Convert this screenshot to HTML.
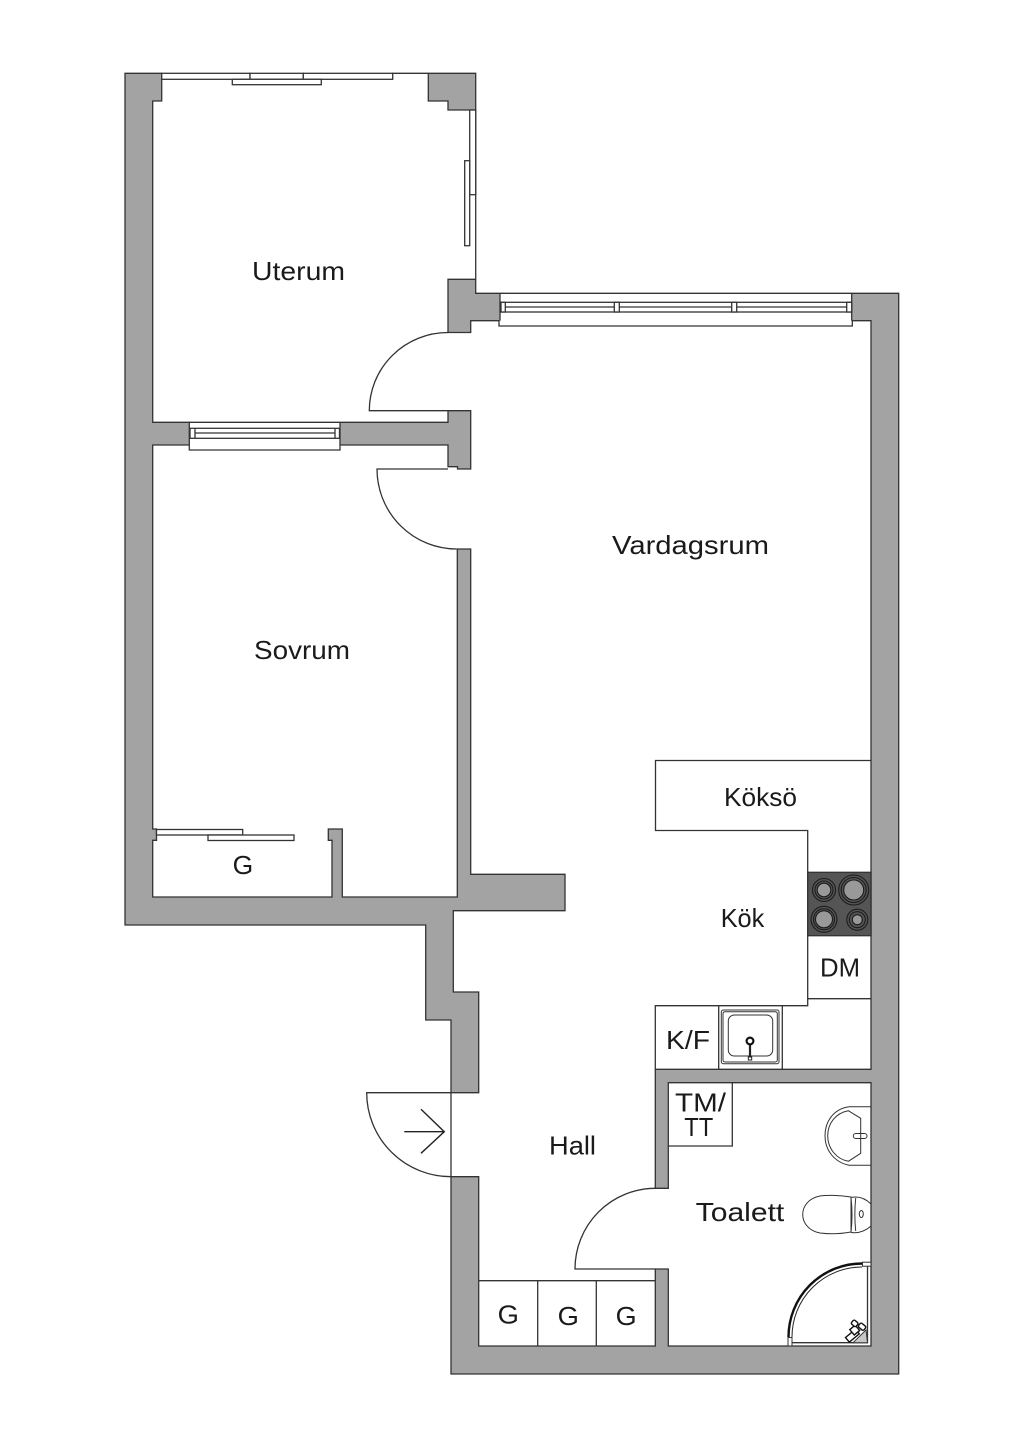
<!DOCTYPE html>
<html>
<head>
<meta charset="utf-8">
<style>
html,body{margin:0;padding:0;background:#fff}
svg{display:block}
text{font-family:"Liberation Sans",sans-serif;font-size:26px;fill:#1a1a1a}
.w{fill:#a3a3a3;stroke:#333;stroke-width:1.3;stroke-linejoin:miter}
.l{fill:none;stroke:#333;stroke-width:1.3}
.f{fill:#fff;stroke:#333;stroke-width:1.3}
.t{fill:none;stroke:#333;stroke-width:1}
</style>
</head>
<body>
<svg width="1024" height="1448" viewBox="0 0 1024 1448" xmlns="http://www.w3.org/2000/svg">
<rect width="1024" height="1448" fill="#fff"/>

<!-- Walls -->
<path class="w" d="M125,73.3H161.7V101H152.7V422.3H189.3V445H152.7V829H156.5V840.3H152.7V897H332V840.3H328.3V829H342.3V897H457.3V549H470.7V874.3H565V910.7H453.3V992H478.7V1092.7H451V1020H425.7V925H125Z"/>
<path class="w" d="M340,422.3H448V410.7H470.7V469H457.5V466.7H448V445H340Z"/>
<path class="w" d="M428.3,73.3H475.7V110H448V101H428.3Z"/>
<path class="w" d="M448,279.3H475.7V293.3H500V320.7H470.7V332.5H448Z"/>
<path class="w" d="M851.7,293.3H898.7V1374H451V1176.7H478.7V1346H655.3V1269H668.3V1346H871V1082.7H668.3V1188.3H655.3V1069.3H871V320.7H851.7Z"/>

<!-- Uterum windows -->
<path class="l" d="M392,73.3H428.3M475.7,110V279.3"/>
<rect class="f" x="161.7" y="73.3" width="88.3" height="6"/>
<rect class="f" x="250" y="73.3" width="53.3" height="6"/>
<rect class="f" x="303.3" y="73.3" width="89.4" height="6"/>
<rect class="f" x="232.3" y="79.3" width="89" height="5.4"/>
<rect class="f" x="469.7" y="110" width="6" height="84.7"/>
<rect class="f" x="464.7" y="160.7" width="5" height="85"/>

<!-- Living room window -->
<path class="f" d="M499,320.7V326H852.3V320.7"/>
<path class="l" d="M500,293.3H851.7"/>
<rect class="f" x="501" y="302.3" width="350.7" height="9.7"/>
<path class="l" d="M505.3,307H846.7"/>
<rect class="f" x="501" y="302.3" width="4.3" height="9.7"/>
<rect class="f" x="614.3" y="302.3" width="5" height="9.7"/>
<rect class="f" x="731.7" y="302.3" width="5" height="9.7"/>
<rect class="f" x="846.7" y="302.3" width="5" height="9.7"/>

<!-- Divider window -->
<path class="l" d="M189.3,422.3H340"/>
<path class="f" d="M189.3,445V450H340V445"/>
<rect class="f" x="190" y="428.3" width="149.5" height="10"/>
<path class="l" d="M195,433H335M195,428.3V438.3M335,428.3V438.3"/>

<!-- Doors -->
<path class="l" d="M448,332.5A78.7,78.2 0 0 0 369.3,410.7H448"/>
<path class="l" d="M448,469H377A79.7,80 0 0 0 456.7,549"/>
<path class="l" d="M451,1092.7H366.7A84.3,84 0 0 0 451,1176.7V1092.7"/>
<path class="l" d="M655.3,1188.3A80.3,80.7 0 0 0 575,1269H655.3"/>

<!-- Entry arrow -->
<path d="M404.3,1131.7H444.3M421,1109.3L444.3,1131.7L421,1153.3" fill="none" stroke="#222" stroke-width="1.4"/>

<!-- Bedroom closet -->
<rect class="f" x="156.5" y="829.5" width="86.2" height="5.5"/>
<rect class="f" x="208" y="835" width="86" height="5.5"/>

<!-- Hall closets -->
<path class="l" d="M478.7,1280.7H655.3M537.7,1280.7V1346M596.3,1280.7V1346"/>

<!-- Kitchen -->
<path class="l" d="M871,760.5H655.5V830.5H807.7V1005.7H655.3V1069.3M807.7,998.7H871M718.7,1005.7V1069.3M782.3,1005.7V1069.3"/>
<rect x="807.7" y="872.3" width="63.3" height="63.4" fill="#555" stroke="#333" stroke-width="1.3"/>
<g stroke="#1c1c1c" fill="#555" stroke-width="1.1">
<circle cx="824" cy="890" r="11.5"/><circle cx="824" cy="890" r="9"/><circle cx="824" cy="890" r="6.8" fill="#999"/>
<circle cx="853.7" cy="890" r="15"/><circle cx="853.7" cy="890" r="12.5"/><circle cx="853.7" cy="890" r="10" fill="#999"/>
<circle cx="824" cy="919.3" r="13"/><circle cx="824" cy="919.3" r="10.5"/><circle cx="824" cy="919.3" r="8.5" fill="#999"/>
<circle cx="857.3" cy="919.7" r="10.5"/><circle cx="857.3" cy="919.7" r="8"/><circle cx="857.3" cy="919.7" r="5" fill="#999"/>
</g>
<!-- Kitchen sink -->
<rect class="t" x="721.3" y="1010" width="57.7" height="53.7" rx="2"/>
<rect class="t" x="723" y="1011.7" width="54.3" height="50.3" rx="2"/>
<rect class="t" x="728.3" y="1015" width="44.4" height="41" rx="6"/>
<circle cx="750" cy="1041" r="3.4" fill="#fff" stroke="#111" stroke-width="2.2"/>
<path d="M750,1045V1057" stroke="#222" stroke-width="2.2"/>
<rect x="748.3" y="1057" width="3.4" height="3" fill="#fff" stroke="#222" stroke-width="1"/>

<!-- WC box -->
<path class="l" d="M668.3,1146H732.3V1082.7"/>

<!-- Wash basin -->
<path class="t" d="M871,1106.7H849C833,1109 825,1122 825,1135.7C825,1150 834,1162 849,1165.3H871"/>
<path class="t" d="M848.3,1110.7L860.7,1118.3V1153.3L848.3,1161.3C836,1159 827.7,1148 827.7,1135.7C827.7,1123 836,1113 848.3,1110.7Z"/>
<rect class="t" x="853.3" y="1133.5" width="13.7" height="5" rx="2.5"/>

<!-- Toilet -->
<path class="t" d="M851,1197C838,1195 826,1195 820,1196C809,1198 802.7,1206 802.7,1214.5C802.7,1223 809,1231 820,1233C828,1234 840,1234 851,1232Z"/>
<path class="t" d="M851,1197.5Q853,1214.5 851,1232.5M855.7,1198Q854,1214.5 855.7,1231"/>
<path class="t" d="M851,1197.5Q862,1195 871,1204M851,1232.5Q862,1234 871,1226"/>
<ellipse cx="861.3" cy="1214" rx="2" ry="3.5" class="t"/>

<!-- Shower -->
<path class="l" d="M867.5,1266V1342.7H790"/>
<path d="M862,1263.5A73.5,73.5 0 0 0 788.5,1337" fill="none" stroke="#111" stroke-width="2.4"/>
<path d="M862,1267A70,70 0 0 0 792,1337" fill="none" stroke="#222" stroke-width="1"/>
<rect x="862.5" y="1262.2" width="8.5" height="4" fill="#fff" stroke="#333" stroke-width="1"/>
<rect x="788" y="1337.5" width="4" height="8.5" fill="#fff" stroke="#333" stroke-width="1"/>
<path d="M866,1330L853,1342.7H867.5Z" fill="#c8c8c8" stroke="#333" stroke-width="1"/>
<g fill="#fff" stroke="#111" stroke-width="1.4">
<rect x="846" y="1333" width="13" height="6" transform="rotate(-40 852 1336)"/>
<rect x="851" y="1327" width="7" height="7" transform="rotate(-40 854 1330)"/>
<rect x="852" y="1321" width="6" height="5" rx="1.5" transform="rotate(40 855 1323)"/>
<rect x="859" y="1324" width="7" height="5" rx="1.5" transform="rotate(40 862 1326)"/>
</g>

<!-- Labels -->
<text x="252" y="280" textLength="93" lengthAdjust="spacingAndGlyphs">Uterum</text>
<text x="612" y="554" textLength="157" lengthAdjust="spacingAndGlyphs">Vardagsrum</text>
<text x="254" y="659" textLength="96" lengthAdjust="spacingAndGlyphs">Sovrum</text>
<text x="724" y="806" textLength="73" lengthAdjust="spacingAndGlyphs">Köksö</text>
<text x="720.7" y="927" textLength="43.6" lengthAdjust="spacingAndGlyphs">Kök</text>
<text x="820" y="976.7" textLength="40" lengthAdjust="spacingAndGlyphs">DM</text>
<text x="666" y="1049" textLength="44" lengthAdjust="spacingAndGlyphs">K/F</text>
<text x="675" y="1111.7" textLength="51" lengthAdjust="spacingAndGlyphs">TM/</text>
<text x="684.3" y="1136" textLength="29" lengthAdjust="spacingAndGlyphs">TT</text>
<text x="695.7" y="1221" textLength="88.6" lengthAdjust="spacingAndGlyphs">Toalett</text>
<text x="549" y="1154.3" textLength="47" lengthAdjust="spacingAndGlyphs">Hall</text>
<text x="232.7" y="874" textLength="20.6" lengthAdjust="spacingAndGlyphs">G</text>
<text x="497.7" y="1323.3" textLength="21.3" lengthAdjust="spacingAndGlyphs">G</text>
<text x="557.7" y="1325" textLength="21.3" lengthAdjust="spacingAndGlyphs">G</text>
<text x="615.7" y="1325" textLength="21" lengthAdjust="spacingAndGlyphs">G</text>
</svg>
</body>
</html>
